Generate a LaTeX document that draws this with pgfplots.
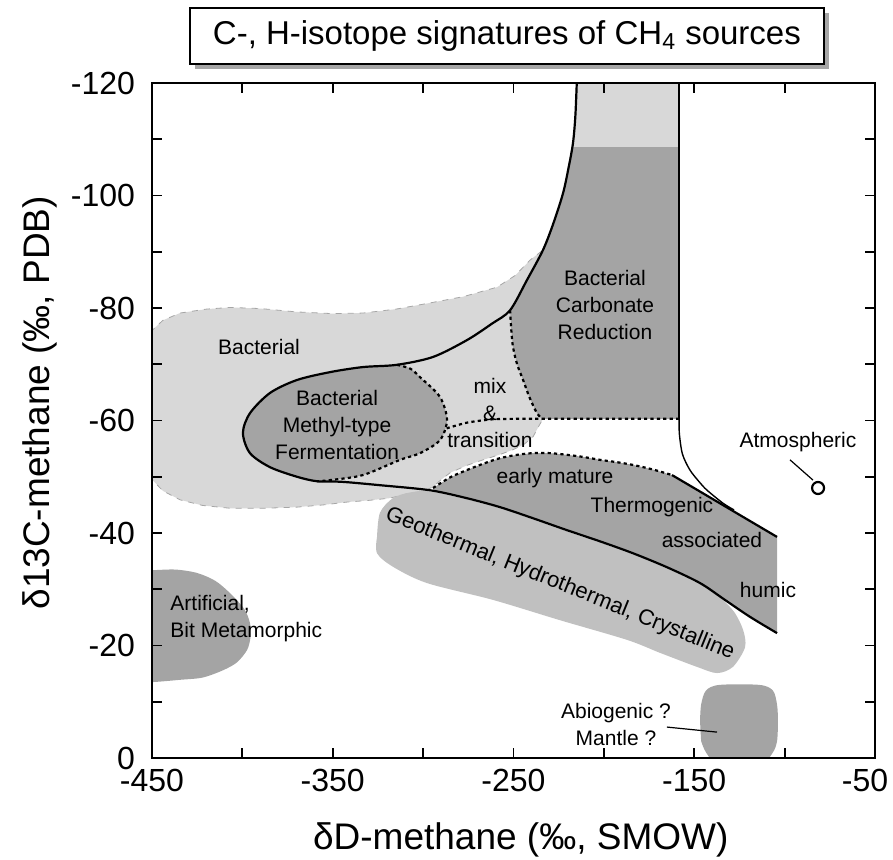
\documentclass[border=0pt]{standalone}
\usepackage{fontspec}
\setmainfont{Liberation Sans}
\usepackage{pgfplots}
\pgfplotsset{compat=1.18}
\usetikzlibrary{shadows}
\definecolor{lightg}{RGB}{216,216,216}
\definecolor{medg}{RGB}{192,192,192}
\definecolor{darkg}{RGB}{164,164,164}
\newcommand\lab{\fontsize{10.5}{13.5}\selectfont}
\begin{document}
\begin{tikzpicture}
\begin{axis}[
  scale only axis, width=361.5pt, height=337.5pt,
  xmin=-450, xmax=-50, ymin=-120, ymax=0, y dir=reverse,
  enlargelimits=false, axis on top,
  axis line style={line width=1.2pt},
  tick align=inside, major tick length=5pt,
  tick style={line width=0.9pt, black},
  xtick={-450,-400,...,-50},
  xticklabels={-450,,-350,,-250,,-150,,\hspace*{-10pt}-50},
  ytick={-120,-110,...,0},
  yticklabels={-120,,-100,,-80,,-60,,-40,,-20,,0},
  ticklabel style={font=\fontsize{16}{19}\selectfont},
  xticklabel style={yshift=-2pt},
  yticklabel style={xshift=-5pt},
  xlabel={δD-methane (‰, SMOW)},
  label style={font=\fontsize{18.5}{22}\selectfont},
  xlabel style={at={(axis description cs:0.51,0)}, anchor=center, yshift=-41pt},
]
% light bacterial domain
\addplot[fill=lightg, draw=gray!70, line width=0.4pt, dashed] coordinates {
 (-455,-74) (-450,-76) (-444,-77.8) (-434.5,-79.1) (-420,-79.8) (-406.8,-80.1) (-390,-79.9)
 (-369.8,-79.3) (-350,-79.0) (-333.3,-79.1) (-315,-79.8) (-296.2,-80.9) (-278,-82)
 (-259.1,-83.7) (-249,-85.8) (-240.9,-88.5) (-233.7,-90.3) (-228,-95) (-222.6,-100.4)
 (-219.5,-105) (-217.1,-109.3) (-215.8,-114) (-215,-121) (-158.4,-121) (-158.4,-60.3)
 (-233.7,-60.3) (-236,-59) (-239.2,-57.1) (-244,-55.8) (-250.3,-54.8) (-258,-53.9)
 (-266.9,-53.0) (-276,-52) (-285.1,-50.7) (-290,-49.5) (-294.5,-48.2) (-300,-47.4)
 (-307.3,-47.1) (-318.3,-46.2) (-330,-45.8) (-342.1,-45.5) (-355,-45.0) (-369.8,-44.6)
 (-388,-44.4) (-406.8,-44.4) (-422,-44.9) (-434.5,-45.9) (-444,-47.5) (-450,-49.5) (-455,-50)
} -- cycle;
% geothermal
\addplot[fill=medg, draw=none, smooth, tension=0.5] coordinates {
 (-325.5,-39.3) (-323.9,-43.6) (-316.7,-46.2) (-307.3,-47.2) (-296.2,-47.4) (-276,-46.0)
 (-257.5,-44.4) (-239,-42.4) (-220.4,-40.3) (-202,-38.3) (-183.9,-36.2) (-165,-33.7)
 (-146.8,-30.9) (-136,-28.6) (-128,-26.0) (-123,-22.8) (-121.9,-19.7) (-128.6,-16.2)
 (-137.4,-15.1) (-148.5,-16.2) (-169,-18.7) (-187.2,-21) (-224.3,-24.5) (-261.3,-28.1)
 (-297.9,-31.1) (-316.7,-34) (-325.5,-36.4) (-325.5,-39.3)
} -- cycle;
% carbonate reduction
\addplot[fill=darkg, draw=none] coordinates {
 (-158.4,-108.6) (-217.3,-108.6) (-219.5,-105) (-222.6,-100.4) (-228,-95) (-233.7,-90.3)
 (-242.5,-85) (-251.9,-79.6) (-251.2,-76) (-250.3,-73.1) (-248,-70) (-244.7,-67.2)
 (-241,-64) (-237,-61.3) (-234.5,-60.3) (-158.4,-60.3)
} -- cycle;
% methyl-type fermentation
\addplot[fill=darkg, draw=none, smooth, tension=0.5] coordinates {
 (-399.7,-57.8) (-395.8,-61.3) (-384.7,-64.9) (-369.8,-67.2) (-351.5,-68.6) (-333.3,-69.5)
 (-314.5,-69.9) (-307,-69.2) (-301.7,-67.7) (-290.7,-64.2) (-286.8,-60.1) (-290.7,-56.5)
 (-301.7,-54.2) (-312.8,-53.0) (-333.3,-50.3) (-351.5,-49.4) (-358.7,-49.2) (-369.8,-50)
 (-384.7,-51.7) (-395.8,-54.2) (-399.7,-57.8)
} -- cycle;
% thermogenic
\addplot[fill=darkg, draw=none] coordinates {
 (-294.5,-48.0) (-285,-49.9) (-275.7,-51.2) (-266,-52.4) (-257.5,-53.3) (-248,-53.9)
 (-239.2,-54.2) (-230,-54.2) (-220.4,-53.9) (-211,-53.5) (-202.1,-53.0) (-193,-52.6)
 (-183.9,-52.1) (-173,-51.3) (-162.3,-50.3) (-104.2,-39.3) (-104.2,-22.2) (-119.2,-25.1)
 (-133,-28.1) (-146.8,-31.1) (-165,-33.9) (-183.9,-36.4) (-202,-38.5) (-220.4,-40.5)
 (-239,-42.6) (-257.5,-44.6) (-276,-46.2) (-294.5,-47.7)
} -- cycle;
% artificial
\addplot[fill=darkg, draw=none, smooth, tension=0.5] coordinates {
 (-460,-33.4) (-449.4,-33.4) (-437,-33.5) (-425.1,-32.9) (-415,-31.5) (-406.8,-29.3)
 (-399,-26.5) (-395.8,-24) (-395.5,-21.5) (-397.4,-19.2) (-403,-17) (-410.7,-15.6)
 (-422,-14.3) (-434.5,-13.9) (-449.4,-13.5) (-460,-13.5)
} -- cycle;
% abiogenic
\addplot[fill=darkg, draw=none, smooth, tension=0.5] coordinates {
 (-146.8,-6.5) (-146.2,-9.5) (-143.5,-12) (-136,-13) (-114,-13) (-106.5,-12) (-104.2,-9.5)
 (-103.7,-6.5) (-104.2,-3) (-106.5,-1) (-112,0.3) (-138,0.3) (-143.5,-1) (-146.2,-3)
} -- cycle;
% main solid boundary
\addplot[black, line width=1.1pt, smooth, tension=0.5] coordinates {
 (-215,-120) (-215.8,-114) (-217.1,-109.3) (-219.5,-105) (-222.6,-100.4) (-228,-95)
 (-233.7,-90.3) (-242.5,-85) (-251.9,-79.6) (-262,-77.2) (-275.7,-74.3) (-294.5,-71.3)
 (-314.5,-69.9) (-333.3,-69.5) (-351.5,-68.6) (-369.8,-67.2) (-384.7,-64.9) (-395.8,-61.3)
 (-399.7,-57.8) (-395.8,-54.2) (-384.7,-51.7) (-369.8,-50) (-358.7,-49.2) (-345,-49.1)
 (-323.9,-48.5) (-296.2,-47.6) (-276,-46.2) (-257.5,-44.6) (-239,-42.6) (-220.4,-40.5)
 (-202,-38.5) (-183.9,-36.4) (-165,-33.9) (-146.8,-31.1) (-133,-28.1) (-119.2,-25.1) (-104.2,-22.2)
};
% right column line and curve
\addplot[black, line width=0.9pt] coordinates {(-158.4,-120) (-158.4,-60.3)};
\addplot[black, line width=0.7pt, smooth, tension=0.5] coordinates {
 (-158.4,-60.3) (-158.2,-57.5) (-156.5,-54) (-152.4,-51.2) (-147,-49) (-142.9,-47.6) (-134.1,-45.3) (-128,-44.1)
};
% thermogenic upper solid
\addplot[black, line width=1.1pt] coordinates {(-162.3,-50.3) (-104.2,-39.3)};
% dotted boundaries
\tikzset{dotb/.style={black, line width=1.1pt, dash pattern=on 1.6pt off 1.6pt}}
\addplot[dotb, smooth, tension=0.5] coordinates {
 (-314.5,-69.9) (-307,-69.2) (-301.7,-67.7) (-290.7,-64.2) (-286.8,-60.1) (-290.7,-56.5)
 (-301.7,-54.2) (-312.8,-53.0) (-333.3,-50.3) (-351.5,-49.4) (-358.7,-49.2)
};
\addplot[dotb, smooth, tension=0.5] coordinates {
 (-251.9,-79.6) (-251.2,-76) (-250.3,-73.1) (-248,-70) (-244.7,-67.2) (-241,-64) (-237,-61.3) (-234,-60.3)
};
\addplot[dotb, smooth, tension=0.4] coordinates {
 (-287,-58.6) (-276,-59.6) (-262,-60.2) (-245,-60.3) (-200,-60.3) (-158.4,-60.3)
};
\addplot[dotb, smooth, tension=0.5] coordinates {
 (-294.5,-48.0) (-285,-49.9) (-275.7,-51.2) (-266,-52.4) (-257.5,-53.3) (-248,-53.9)
 (-239.2,-54.2) (-230,-54.2) (-220.4,-53.9) (-211,-53.5) (-202.1,-53.0) (-193,-52.6)
 (-183.9,-52.1) (-173,-51.3) (-162.3,-50.3)
};
% atmospheric
\addplot[black, line width=0.6pt] coordinates {(-97,-53) (-84.3,-49.4)};
\addplot[only marks, mark=o, mark size=3pt, line width=1.1pt, black] coordinates {(-81.5,-48)};
% abiogenic leader
\addplot[black, line width=0.6pt] coordinates {(-165.1,-5.5) (-137.4,-4.6)};
% labels
\node[font=\lab] at (axis cs:-390.8,-73.1) {Bacterial};
\node[font=\lab, align=center] at (axis cs:-347.6,-59.2) {Bacterial\\Methyl-type\\Fermentation};
\node[font=\lab, align=center] at (axis cs:-199.4,-80.5) {Bacterial\\Carbonate\\Reduction};
\node[font=\lab, align=center] at (axis cs:-263,-61.4) {mix\\\&\\transition};
\node[font=\lab] at (axis cs:-227,-49.8) {early mature};
\node[font=\lab] at (axis cs:-173.4,-44.6) {Thermogenic};
\node[font=\lab] at (axis cs:-140.2,-38.8) {associated};
\node[font=\lab] at (axis cs:-109.2,-29.9) {humic};
\node[font=\fontsize{11}{13}\selectfont, rotate=-22] at (axis cs:-224.3,-30.9) {Geothermal, Hydrothermal, Crystalline};
\node[font=\lab, align=left, anchor=west, inner sep=0pt] at (axis cs:-440,-24.8) {Artificial,\\Bit Metamorphic};
\node[font=\lab, align=center] at (axis cs:-193.3,-5.9) {Abiogenic ?\\Mantle ?};
\node[font=\lab] at (axis cs:-92.6,-56.2) {Atmospheric};
\end{axis}
\node[rotate=90, font=\fontsize{18.5}{22}\selectfont] at ([xshift=-56pt, yshift=8.8pt]current axis.west) {δ13C-methane (‰, PDB)};
\node[draw, line width=1pt, fill=white, minimum width=317pt, minimum height=28pt, inner sep=0pt,
      drop shadow={shadow xshift=2.5pt, shadow yshift=-2.5pt, fill=gray!70, opacity=1},
      font=\fontsize{16.5}{19}\selectfont]
  at ([xshift=-3.3pt,yshift=23.5pt]current axis.north) {C-, H-isotope signatures of CH\textsubscript{4} sources};
\pgfresetboundingbox
\path[use as bounding box] ([xshift=-76pt,yshift=-51pt]current axis.south west) rectangle ([xshift=9pt,yshift=41.5pt]current axis.north east);
\end{tikzpicture}
\end{document}
